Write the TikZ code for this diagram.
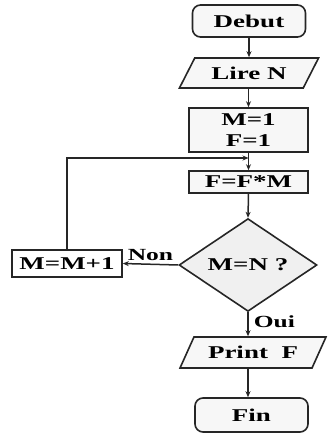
\documentclass[tikz,border=0pt]{standalone}
\usepackage{fontspec}
\setmainfont{Liberation Serif}[FakeStretch=1.5]
\usetikzlibrary{shapes.geometric,arrows.meta}
\begin{document}
\begin{tikzpicture}[x=1pt,y=-1pt,
  every node/.style={font=\fontsize{18}{21}\selectfont\bfseries, inner sep=0pt},
  base/.style={draw=black!85, line width=1.6pt, fill=gray!6},
  term/.style={base, rounded corners=8pt, minimum width=113pt},
  procbox/.style={base, rectangle, minimum width=119pt},
  io/.style={base, trapezium, trapezium left angle=50, trapezium right angle=130, trapezium stretches=true, minimum height=30pt},
  cond/.style={base, diamond, fill=gray!12, minimum width=138pt, minimum height=84pt},
  arr/.style={draw=black!85, line width=1.5pt, -{Stealth[length=6pt,width=5pt]}},
  lbl/.style={font=\fontsize{17}{18}\selectfont\bfseries}
]
\useasboundingbox (0,0) rectangle (330,434);
\node[term, minimum height=32pt] (debut) at (249,21) {Debut};
\node[io, minimum width=140pt] (lire) at (249,73) {Lire N};
\node[procbox, minimum height=44pt, align=center] (init) at (248.5,130) {M=1\\F=1};
\node[procbox, minimum height=22pt] (calc) at (248.5,182) {F=F*M};
\node[cond] (test) at (248,265) {M=N ?};
\node[base, rectangle, minimum width=110pt, minimum height=27pt, fill=white] (inc) at (67,263.5) {M=M+1};
\node[io, minimum width=146pt, minimum height=31pt] (print) at (253,352.5) {Print\ \ F};
\node[term, minimum height=34pt] (fin) at (251.5,415) {Fin};
\coordinate (j) at (248.5,158);

\draw[arr] (debut.south) -- (debut.south |- lire.north);
\draw[arr] (lire.south -| init.north) -- (init.north);
\draw[arr] (init.south) -- (calc.north);
\draw[arr] (inc.north) |- (j);
\draw[arr] (calc.south) -- (test.north);
\draw[arr] (test.west) -- node[lbl, above=3pt] {Non} (inc.east);
\draw[arr] (test.south) -- node[lbl, right=5pt, pos=0.4] {Oui} (test.south |- print.north);
\draw[arr] (print.south -| test.south) -- (fin.north -| test.south);
\end{tikzpicture}
\end{document}
